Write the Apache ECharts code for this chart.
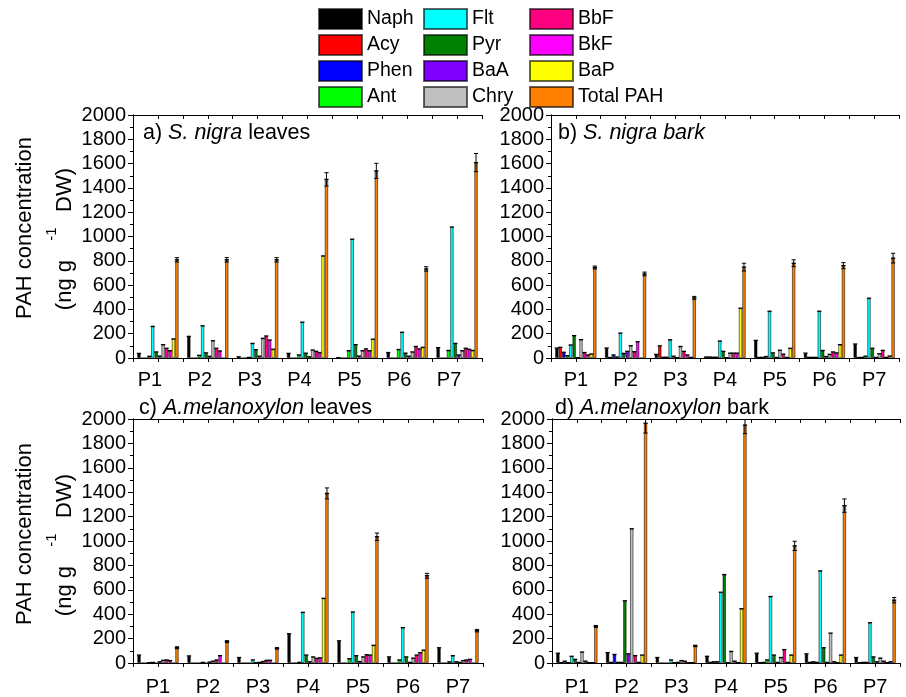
<!DOCTYPE html>
<html><head><meta charset="utf-8">
<script src="https://cdn.jsdelivr.net/npm/echarts@6/dist/echarts.min.js"></script>
<style>html,body{margin:0;padding:0;background:#fff}#c{width:906px;height:697px}</style>
</head><body><div id="c"></div>
<script>
const categories = ['P1','P2','P3','P4','P5','P6','P7'];
const seriesNames = ['Naph','Acy','Phen','Ant','Flt','Pyr','BaA','Chry','BbF','BkF','BaP','Total PAH'];
const seriesColors = ['#000000','#ff0000','#0000ff','#00ff00','#00ffff','#008000','#8000ff','#c0c0c0','#ff0080','#ff00ff','#ffff00','#ff8000'];

// a) S. nigra leaves — rows follow seriesNames, columns P1..P7
const panelA = [
  [38, 178, 10, 38, 3, 45, 85],      // Naph
  [0, 0, 0, 0, 0, 0, 0],             // Acy
  [0, 0, 0, 0, 0, 0, 0],             // Phen
  [14, 22, 5, 25, 60, 70, 62],       // Ant
  [260, 265, 120, 295, 978, 212, 1078], // Flt
  [50, 42, 68, 40, 110, 40, 120],    // Pyr
  [16, 14, 15, 10, 16, 15, 25],      // BaA
  [110, 142, 162, 66, 60, 50, 60],   // Chry
  [80, 80, 181, 55, 75, 95, 80],     // BbF
  [60, 58, 148, 45, 60, 75, 72],     // BkF
  [157, 0, 72, 840, 155, 88, 62],    // BaP
  [808, 808, 808, 1470, 1540, 733, 1608] // Total PAH
];
const panelA_totalErr = [18, 18, 18, 55, 62, 18, 75];

// b) S. nigra bark
const panelB = [
  [82, 82, 30, 8, 145, 40, 115],
  [88, 4, 100, 8, 5, 5, 4],
  [47, 25, 6, 6, 5, 5, 5],
  [19, 8, 6, 6, 12, 5, 15],
  [107, 205, 150, 140, 385, 385, 492],
  [184, 38, 15, 55, 42, 62, 80],
  [3, 55, 3, 3, 5, 12, 5],
  [151, 101, 95, 40, 64, 30, 35],
  [45, 52, 55, 40, 32, 50, 63],
  [25, 134, 25, 40, 5, 42, 5],
  [33, 0, 5, 410, 80, 110, 16],
  [745, 692, 495, 748, 780, 760, 822]
];
const panelB_totalErr = [12, 15, 12, 32, 28, 25, 40];

// c) A.melanoxylon leaves
const panelC = [
  [65, 58, 45, 240, 182, 50, 125],
  [0, 0, 0, 0, 0, 0, 0],
  [0, 0, 0, 0, 0, 0, 0],
  [3, 0, 0, 5, 35, 25, 10],
  [5, 5, 25, 415, 418, 290, 60],
  [0, 0, 3, 65, 60, 50, 10],
  [10, 8, 5, 10, 12, 5, 5],
  [22, 15, 12, 50, 50, 40, 20],
  [25, 25, 22, 38, 68, 65, 25],
  [20, 60, 22, 42, 65, 85, 30],
  [0, 0, 0, 530, 145, 105, 0],
  [125, 175, 120, 1390, 1035, 715, 265]
];
const panelC_totalErr = [8, 8, 6, 45, 30, 20, 10];

// d) A.melanoxylon bark
const panelD = [
  [80, 85, 45, 55, 80, 75, 45],
  [3, 5, 0, 5, 3, 5, 3],
  [15, 70, 0, 10, 5, 10, 5],
  [3, 5, 0, 10, 25, 5, 5],
  [55, 5, 25, 580, 545, 755, 330],
  [30, 510, 3, 725, 65, 125, 50],
  [5, 75, 5, 3, 5, 5, 10],
  [90, 1100, 20, 95, 45, 245, 40],
  [15, 60, 15, 15, 110, 10, 15],
  [3, 5, 3, 3, 5, 3, 3],
  [3, 65, 3, 445, 65, 65, 10],
  [300, 1965, 140, 1950, 960, 1290, 515]
];
const panelD_totalErr = [8, 80, 6, 70, 38, 55, 22];

const panels = [
  {values: panelA, err: panelA_totalErr, grid: {left:133, top:115, width:349, height:243}, labelPad:[0,16,0,0], labelMargin:12},
  {values: panelB, err: panelB_totalErr, grid: {left:551, top:115, width:348, height:243}, labelPad:0, labelMargin:12},
  {values: panelC, err: panelC_totalErr, grid: {left:133, top:419, width:350, height:245}, labelPad:0, labelMargin:14},
  {values: panelD, err: panelD_totalErr, grid: {left:552, top:419, width:348, height:245}, labelPad:0, labelMargin:14}
];

const FONT = 'Liberation Sans, Arial, sans-serif';
const BAR_W = 3.45, BAR_GAP = 0;
const YMAX = 2000;

function errRender(params, api) {
  const cat = api.value(0), si = api.value(1), v = api.value(2), e = api.value(3);
  const gap = BAR_W * BAR_GAP;
  const W = 12 * BAR_W + 11 * gap;
  const dx = -W / 2 + si * (BAR_W + gap) + BAR_W / 2;
  const mid = api.coord([cat, v]);
  const x = mid[0] + dx;
  const hw = BAR_W / 2 + 0.4;
  const kids = [{type:'line', shape:{x1:x-hw, y1:mid[1], x2:x+hw, y2:mid[1]}, style:{stroke:'#000', lineWidth:1.3}}];
  if (e > 0) {
    const top = api.coord([cat, Math.min(v + e, YMAX)]);
    const bot = api.coord([cat, Math.max(v - e, 0)]);
    kids.push({type:'line', shape:{x1:x, y1:top[1], x2:x, y2:bot[1]}, style:{stroke:'#000', lineWidth:1}});
    if (v + e <= YMAX) kids.push({type:'line', shape:{x1:x-hw, y1:top[1], x2:x+hw, y2:top[1]}, style:{stroke:'#000', lineWidth:1}});
    kids.push({type:'line', shape:{x1:x-hw, y1:bot[1], x2:x+hw, y2:bot[1]}, style:{stroke:'#000', lineWidth:1}});
  }
  return {type:'group', children:kids};
}

const grid = [], xAxis = [], yAxis = [], series = [];
const axisLine = {show:true, lineStyle:{color:'#000', width:1}};
panels.forEach((p, k) => {
  grid.push(Object.assign({containLabel:false}, p.grid));
  xAxis.push({type:'category', gridIndex:k, data:categories, position:'bottom',
    axisLine: axisLine, axisTick:{show:false},
    axisLabel:{fontSize:20, color:'#000', fontFamily:FONT, margin:p.labelMargin, padding:p.labelPad}});
  xAxis.push({type:'value', gridIndex:k, min:0, max:14, interval:1, position:'bottom',
    axisLine:{show:false}, axisTick:{show:true, inside:false, length:4, lineStyle:{color:'#000'}},
    axisLabel:{show:false}, splitLine:{show:false}});
  xAxis.push({type:'value', gridIndex:k, min:0, max:14, interval:1, position:'top',
    axisLine: axisLine, axisTick:{show:true, inside:true, length:4, lineStyle:{color:'#000'}},
    axisLabel:{show:false}, splitLine:{show:false}});
  yAxis.push({type:'value', gridIndex:k, min:0, max:YMAX, interval:200, position:'left',
    axisLine: axisLine, axisTick:{show:true, inside:false, length:5, lineStyle:{color:'#000'}},
    minorTick:{show:true, splitNumber:2, length:3, lineStyle:{color:'#000'}},
    axisLabel:{fontSize:20, color:'#000', fontFamily:FONT, margin:7, formatter: v => String(v)},
    splitLine:{show:false}});
  yAxis.push({type:'value', gridIndex:k, min:0, max:YMAX, interval:200, position:'right',
    axisLine: axisLine, axisTick:{show:true, inside:true, length:5, lineStyle:{color:'#000'}},
    minorTick:{show:true, splitNumber:2, length:3, lineStyle:{color:'#000'}},
    axisLabel:{show:false}, splitLine:{show:false}});
  const errData = [];
  seriesNames.forEach((name, si) => {
    series.push({type:'bar', name:name, xAxisIndex:3*k, yAxisIndex:2*k,
      data:p.values[si], barWidth:BAR_W, barGap:(BAR_GAP*100)+'%',
      itemStyle:{color:seriesColors[si], borderColor:'rgba(0,0,0,0.6)', borderWidth:0.9},
      emphasis:{disabled:true}});
    p.values[si].forEach((v, ci) => {
      if (v > 0) errData.push([ci, si, v, si === 11 ? p.err[ci] : 0]);
    });
  });
  series.push({type:'custom', xAxisIndex:3*k, yAxisIndex:2*k, z:5, data:errData,
    renderItem:errRender, encode:{x:0, y:2}, silent:true});
});

const legendCommon = {orient:'vertical', itemWidth:43, itemHeight:20, itemGap:4, icon:'rect',
  selectedMode:false, padding:0,
  textStyle:{fontSize:19.5, color:'#000', fontFamily:FONT, lineHeight:20}};
const legend = [
  Object.assign({left:318, top:8, data:seriesNames.slice(0,4)}, legendCommon),
  Object.assign({left:423, top:8, data:seriesNames.slice(4,8)}, legendCommon),
  Object.assign({left:529, top:8, data:seriesNames.slice(8,12)}, legendCommon)
];

const rich = {
  n:{fontSize:21.5, fontFamily:FONT, color:'#000', fontWeight:'normal', lineHeight:24},
  i:{fontSize:21.5, fontFamily:FONT, color:'#000', fontWeight:'normal', fontStyle:'italic', lineHeight:24}
};
const title = [
  {text:'{n|a) }{i|S. nigra}{n| leaves}', left:143, top:121},
  {text:'{n|b) }{i|S. nigra bark}', left:558, top:121},
  {text:'{n|c) }{i|A.melanoxylon}{n| leaves}', left:139, top:396},
  {text:'{n|d) }{i|A.melanoxylon}{n| bark}', left:555, top:396}
].map(t => Object.assign(t, {padding:0, textStyle:{fontWeight:'normal', rich:rich}}));

function yName(cy) {
  const f = {fontSize:22, fontFamily:FONT, fill:'#000'};
  return [
    {type:'text', x:25, y:cy, rotation:Math.PI/2,
      style:Object.assign({text:'PAH concentration', textAlign:'center', textVerticalAlign:'middle'}, f)},
    {type:'group', x:65, y:cy, rotation:Math.PI/2, children:[
      {type:'text', x:-32, y:0, style:Object.assign({text:'(ng g', textAlign:'right', textVerticalAlign:'middle'}, f)},
      {type:'text', x:-6, y:-13, style:{text:'-1', textAlign:'center', textVerticalAlign:'middle', fontSize:15, fontFamily:FONT, fill:'#000'}},
      {type:'text', x:16, y:0, style:Object.assign({text:'DW)', textAlign:'left', textVerticalAlign:'middle'}, f)}
    ]}
  ];
}

const chart = echarts.init(document.getElementById('c'), null, {renderer:'canvas'});
chart.setOption({
  animation:false,
  backgroundColor:'#fff',
  title: title,
  legend: legend,
  grid: grid, xAxis: xAxis, yAxis: yAxis, series: series,
  graphic: yName(228).concat(yName(534))
});
</script></body></html>
